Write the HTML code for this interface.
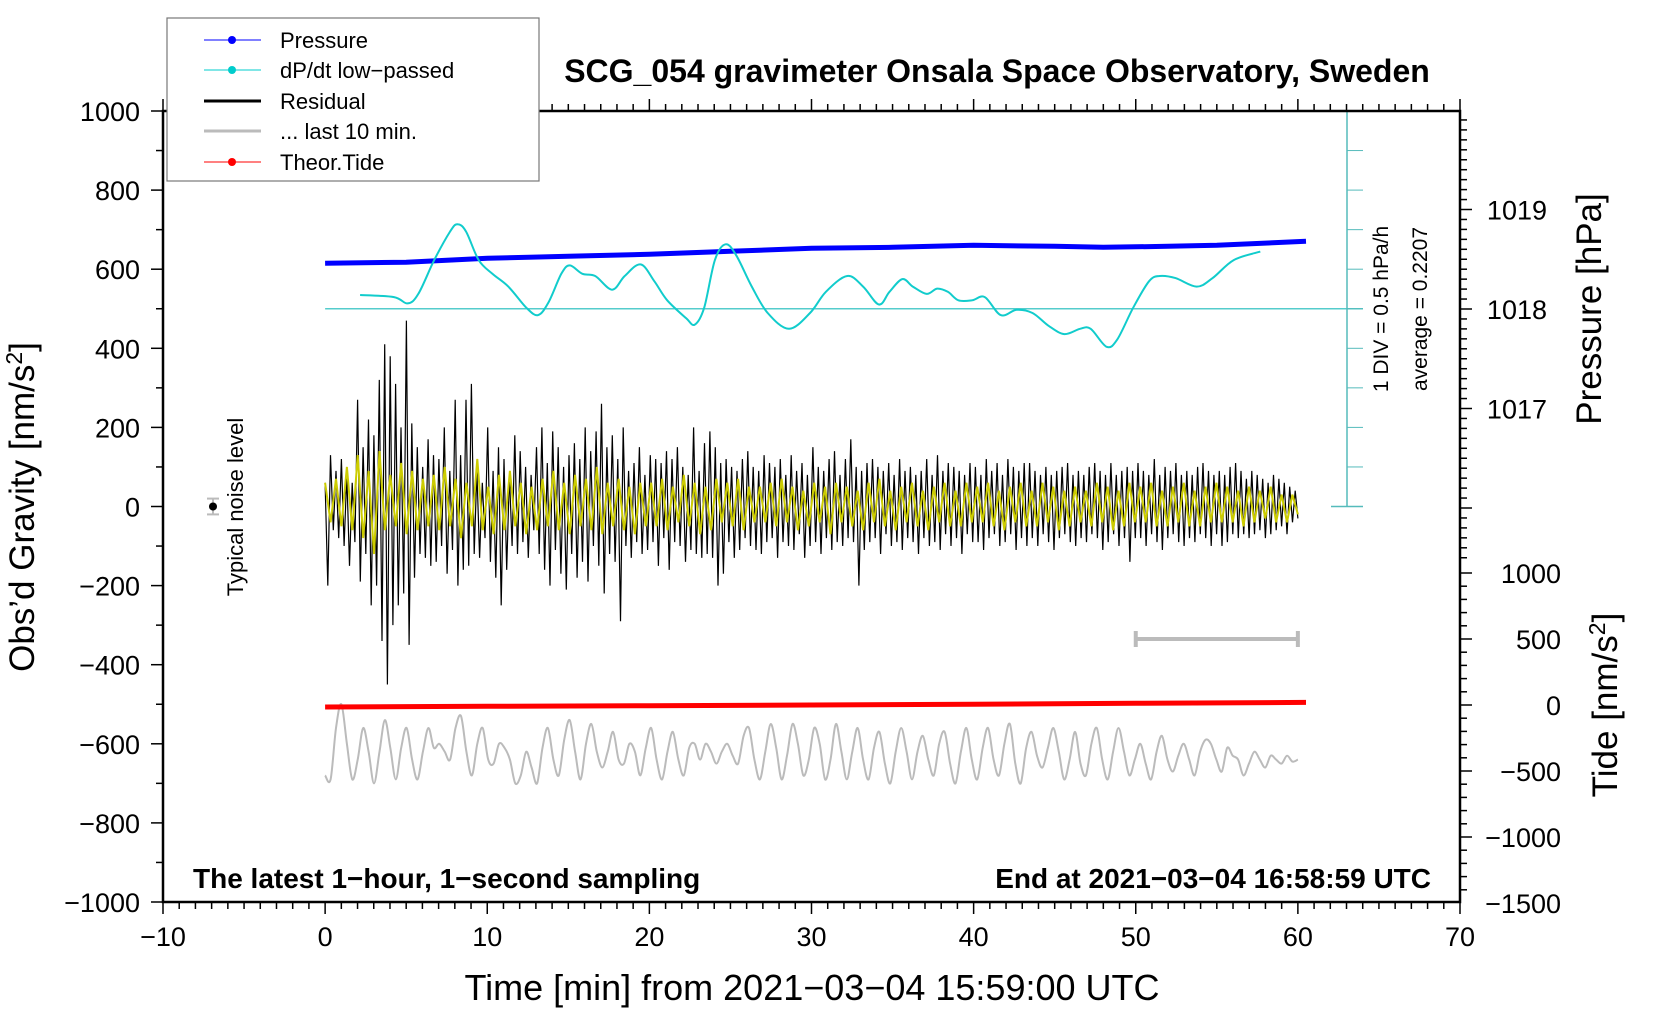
<!DOCTYPE html>
<html><head><meta charset="utf-8"><style>
html,body{margin:0;padding:0;background:#fff;overflow:hidden;}
svg{display:block;font-family:"Liberation Sans",sans-serif;}
</style></head><body>
<svg id="chart" width="1660" height="1020" viewBox="0 0 1660 1020" xmlns="http://www.w3.org/2000/svg">
<rect width="1660" height="1020" fill="#fff"/>
<g id="marks"></g>
<g id="axes"></g>
<text x="997" y="82" text-anchor="middle" font-size="32" font-weight="bold">SCG_054 gravimeter Onsala Space Observatory, Sweden</text>
<text x="812" y="1000" text-anchor="middle" font-size="36">Time [min] from 2021−03−04 15:59:00 UTC</text>
<text transform="translate(34,507) rotate(-90)" text-anchor="middle" font-size="35">Obs’d Gravity [nm/s<tspan font-size="23" dy="-12">2</tspan><tspan dy="12">]</tspan></text>
<text transform="translate(1601,309) rotate(-90)" text-anchor="middle" font-size="35">Pressure [hPa]</text>
<text transform="translate(1617,705) rotate(-90)" text-anchor="middle" font-size="35">Tide [nm/s<tspan font-size="23" dy="-12">2</tspan><tspan dy="12">]</tspan></text>
<text x="193" y="888" font-size="28" font-weight="bold">The latest 1−hour, 1−second sampling</text>
<text x="1431" y="888" text-anchor="end" font-size="28" font-weight="bold">End at 2021−03−04 16:58:59 UTC</text>
<text transform="translate(243,507) rotate(-90)" text-anchor="middle" font-size="22">Typical noise level</text>
<text transform="translate(1388,309) rotate(-90)" text-anchor="middle" font-size="21">1 DIV = 0.5 hPa/h</text>
<text transform="translate(1427,309) rotate(-90)" text-anchor="middle" font-size="21">average = 0.2207</text>
<g>
<rect x="167" y="18" width="372" height="163" fill="#fff" stroke="#777" stroke-width="1.2"/>
<g><line x1="204" y1="40" x2="261" y2="40" stroke="#00f"/><circle cx="232" cy="40" r="4" fill="#00f"/><text x="280" y="48" font-size="22">Pressure</text></g>
<g><line x1="204" y1="70" x2="261" y2="70" stroke="#0cc"/><circle cx="232" cy="70" r="4" fill="#0cc"/><text x="280" y="78" font-size="22">dP/dt low−passed</text></g>
<g><line x1="204" y1="101" x2="261" y2="101" stroke="#000" stroke-width="3"/><text x="280" y="109" font-size="22">Residual</text></g>
<g><line x1="204" y1="131" x2="261" y2="131" stroke="#bbb" stroke-width="3"/><text x="280" y="139" font-size="22">... last 10 min.</text></g>
<g><line x1="204" y1="162" x2="261" y2="162" stroke="#f00"/><circle cx="232" cy="162" r="4" fill="#f00"/><text x="280" y="170" font-size="22">Theor.Tide</text></g>
</g>
</svg>
<script>
// ---- data ----
const residual = [
60,-200,130,-60,90,-80,120,-100,80,-150,60,-90,270,-190,150,-120,220,-250,180,-200,
320,-340,410,-450,380,-300,310,-250,200,-220,470,-350,210,-180,150,-120,100,-130,170,-150,
130,-140,120,-100,200,-170,90,-110,270,-200,130,-160,270,-150,310,-120,90,-130,60,-80,
200,-140,90,-180,150,-250,120,-160,80,-100,180,-120,140,-90,100,-130,80,-60,150,-120,
200,-160,110,-200,190,-110,150,-170,100,-210,130,-120,160,-180,120,-140,200,-190,140,-100,
190,-150,260,-220,150,-120,180,-140,120,-290,200,-100,90,-130,110,-90,150,-120,80,-110,
130,-90,120,-150,110,-80,140,-160,120,-90,150,-100,100,-140,80,-110,200,-120,90,-130,
160,-120,190,-130,150,-200,110,-170,120,-90,100,-130,90,-110,120,-80,140,-100,100,-110,
90,-120,130,-90,110,-80,100,-130,120,-90,80,-100,130,-110,90,-70,110,-130,80,-100,
150,-90,100,-120,90,-80,120,-110,140,-90,80,-100,120,-80,170,-90,100,-200,90,-110,
110,-90,120,-80,100,-120,90,-70,110,-100,80,-90,120,-110,90,-80,100,-90,80,-120,
90,-80,120,-100,80,-90,130,-110,90,-70,110,-100,100,-80,90,-120,80,-70,110,-90,
100,-90,80,-110,120,-80,90,-70,110,-100,80,-90,120,-70,100,-110,90,-80,110,-100,
110,-80,90,-100,80,-70,100,-90,80,-110,90,-80,100,-70,110,-90,80,-100,90,-80,
80,-90,100,-70,110,-80,90,-110,80,-90,110,-70,80,-100,90,-80,100,-140,90,-80,
110,-80,90,-100,80,-70,120,-90,80,-110,100,-80,90,-70,110,-90,80,-100,90,-80,
80,-90,100,-70,110,-80,90,-100,80,-70,90,-100,80,-90,100,-70,110,-80,90,-70,
70,-80,90,-70,80,-60,70,-80,60,-70,80,-60,70,-50,60,-70,50,-40,40,-30];
const smoothed = [
60,-40,70,-50,100,-60,130,-80,90,-120,140,-60,80,-50,110,-70,90,-60,70,-50,
80,-60,100,-50,70,-80,60,-50,120,-60,50,-70,80,-60,90,-50,60,-70,50,-60,
70,-50,90,-60,60,-70,80,-50,70,-60,100,-70,60,-50,70,-60,50,-70,60,-50,
60,-50,70,-60,50,-40,80,-50,60,-70,50,-60,70,-40,60,-50,70,-60,50,-40,
50,-40,60,-50,70,-40,50,-60,40,-50,60,-40,50,-70,60,-40,50,-50,40,-60,
60,-40,70,-50,40,-60,50,-40,60,-50,40,-60,50,-40,60,-50,40,-50,60,-40,
50,-40,60,-50,40,-60,50,-40,60,-50,40,-50,60,-40,50,-60,40,-50,50,-40,
40,-50,60,-40,50,-60,40,-50,60,-40,50,-40,60,-50,40,-50,50,-40,60,-50,
40,-50,50,-40,60,-40,50,-40,40,-50,50,-40,40,-30,50,-40,30,-40,30,-20];
const last10 = [
-680,-690,-560,-500,-600,-690,-640,-560,-620,-700,-620,-540,-610,-690,-610,-560,-640,-690,-620,-560,
-610,-600,-620,-640,-560,-530,-620,-680,-600,-560,-640,-650,-600,-610,-640,-700,-680,-620,-660,-700,
-610,-560,-640,-680,-590,-540,-620,-690,-600,-550,-620,-660,-620,-570,-640,-650,-600,-620,-680,-610,
-560,-640,-690,-620,-570,-640,-680,-610,-600,-640,-600,-620,-650,-620,-600,-630,-650,-580,-560,-640,
-690,-620,-550,-610,-690,-630,-550,-600,-680,-640,-560,-600,-690,-640,-550,-620,-690,-620,-560,-640,
-690,-610,-570,-650,-700,-620,-560,-620,-690,-620,-580,-640,-680,-600,-570,-650,-700,-620,-560,-640,
-690,-610,-560,-640,-680,-600,-550,-650,-700,-610,-570,-630,-660,-610,-560,-620,-690,-640,-570,-650,
-680,-600,-560,-640,-690,-620,-560,-620,-680,-640,-600,-650,-690,-620,-580,-640,-670,-630,-600,-640,
-680,-620,-590,-600,-640,-670,-610,-630,-640,-680,-650,-620,-640,-660,-630,-640,-650,-630,-645,-640];
const pressureTimes = [0,5,10,15,20,25,30,35,40,45,48,52,55,60.5];
const pressureVals = [1018.46,1018.47,1018.51,1018.53,1018.55,1018.58,1018.61,1018.62,1018.64,1018.63,1018.62,1018.63,1018.64,1018.68];
const dpdtTimes = [2.16,4.25,5.09,5.75,6.73,7.71,8.16,8.69,9.47,10.32,11.30,12.41,13.13,13.78,14.57,15.09,15.87,16.66,17.70,18.48,19.46,20.31,21.10,22.27,22.80,23.38,24.04,24.69,25.34,26.32,27.30,28.61,29.91,30.89,32.20,33.18,34.16,34.81,35.60,36.25,37.10,37.75,38.41,39.06,39.91,40.69,41.67,42.65,43.63,44.61,45.59,46.57,47.22,48.20,48.86,49.84,50.82,51.47,52.45,53.76,54.74,56.04,57.68];
const dpdtVals = [0.395,0.368,0.288,0.408,0.836,1.197,1.290,1.197,0.836,0.662,0.501,0.234,0.140,0.301,0.662,0.769,0.662,0.635,0.461,0.635,0.782,0.568,0.328,0.100,0.020,0.234,0.836,1.036,0.903,0.501,0.167,-0.033,0.167,0.435,0.635,0.501,0.274,0.435,0.595,0.501,0.408,0.475,0.435,0.328,0.328,0.368,0.140,0.207,0.167,0.007,-0.100,-0.033,-0.033,-0.260,-0.167,0.234,0.568,0.635,0.608,0.501,0.608,0.836,0.943];
const dpdtAverage = 0.2207;
const tideTimes = [0,10,20,30,40,50,60.5];
const tideVals = [-15,-10,-5,0,6,13,20];
const xTicks = [-10,0,10,20,30,40,50,60,70];
const yTicks = [1000,800,600,400,200,0,-200,-400,-600,-800,-1000];
const pTicks = [1019,1018,1017];
const tideTicks = [1000,500,0,-500,-1000,-1500];

// ---- scales ----
const X0=163, X1=1460, Y0=111, Y1=902;
const sx = t => X0 + (t+10)/80*(X1-X0);
const sy = g => Y0 + (1000-g)/2000*(Y1-Y0);
const sp = p => 309 - (p-1018)*99.5;
const st = v => 705 - v/500*66;
const sd = d => sy(500) - (d-dpdtAverage)/0.5*(sy(0)-sy(100));

const NS="http://www.w3.org/2000/svg";
const marks=document.getElementById('marks'), axes=document.getElementById('axes');
function mk(tag, attrs, parent){const e=document.createElementNS(NS,tag);for(const k in attrs)e.setAttribute(k,attrs[k]);parent.appendChild(e);return e;}
function smoothPath(pts){
  let d='M'+pts[0][0].toFixed(1)+','+pts[0][1].toFixed(1);
  for(let i=0;i<pts.length-1;i++){
    const p0=pts[Math.max(0,i-1)],p1=pts[i],p2=pts[i+1],p3=pts[Math.min(pts.length-1,i+2)];
    const c1=[p1[0]+(p2[0]-p0[0])/6,p1[1]+(p2[1]-p0[1])/6],c2=[p2[0]-(p3[0]-p1[0])/6,p2[1]-(p3[1]-p1[1])/6];
    d+='C'+c1[0].toFixed(1)+','+c1[1].toFixed(1)+' '+c2[0].toFixed(1)+','+c2[1].toFixed(1)+' '+p2[0].toFixed(1)+','+p2[1].toFixed(1);
  }
  return d;
}
function linePath(pts){return 'M'+pts.map(p=>p[0].toFixed(1)+','+p[1].toFixed(1)).join('L');}

// dP/dt baseline and scale bar
const SBX=1347;
let e=mk('line',{x1:sx(0),y1:sd(dpdtAverage),x2:SBX+16,y2:sd(dpdtAverage),stroke:'#5cc',"stroke-width":1.5},marks);


e=mk('g',{stroke:'#5bb'},marks);


mk('line',{x1:SBX,y1:Y0,x2:SBX,y2:sy(0),"stroke-width":1.5},e);
mk('line',{x1:SBX-16,y1:sy(0),x2:SBX+16,y2:sy(0),"stroke-width":1.5},e);
mk('line',{x1:SBX-16,y1:Y0,x2:SBX+16,y2:Y0,"stroke-width":1.5},e);
for(let i=1;i<10;i++){const y=sy(1000-i*100);mk('line',{x1:SBX,y1:y,x2:SBX+16,y2:y,"stroke-width":1},e);}

// pressure
const pPts=pressureTimes.map((t,i)=>[sx(t),sp(pressureVals[i])]);
e=mk('path',{d:linePath(pPts),fill:'none',stroke:'#00f',"stroke-width":5},marks);


// dpdt
e=mk('path',{d:smoothPath(dpdtTimes.map((t,i)=>[sx(t),sd(dpdtVals[i])])),fill:'none',stroke:'#1cc',"stroke-width":2},marks);


// residual
const rPts=residual.map((v,i)=>[sx(i*60/(residual.length-1)),sy(v)]);
e=mk('path',{d:linePath(rPts),fill:'none',stroke:'#000',"stroke-width":1.2},marks);


const yPts=smoothed.map((v,i)=>[sx(i*60/(smoothed.length-1)),sy(v)]);
e=mk('path',{d:linePath(yPts),fill:'none',stroke:'#cc0',"stroke-width":2},marks);


// last 10 min
e=mk('path',{d:smoothPath(last10.map((v,i)=>[sx(i*60/(last10.length-1)),sy(v)])),fill:'none',stroke:'#bbb',"stroke-width":2},marks);


// tide
e=mk('path',{d:linePath(tideTimes.map((t,i)=>[sx(t),st(tideVals[i])])),fill:'none',stroke:'#f00',"stroke-width":5},marks);


// last 10 min bracket
e=mk('g',{stroke:'#bbb',"stroke-width":4},marks);


mk('line',{x1:sx(50),y1:639,x2:sx(60),y2:639},e);
mk('line',{x1:sx(50),y1:631,x2:sx(50),y2:647},e);
mk('line',{x1:sx(60),y1:631,x2:sx(60),y2:647},e);
// noise level
e=mk('g',{},marks);


mk('line',{x1:213,y1:sy(20),x2:213,y2:sy(-20),stroke:'#bbb',"stroke-width":2},e);
mk('line',{x1:207,y1:sy(20),x2:219,y2:sy(20),stroke:'#bbb',"stroke-width":2},e);
mk('line',{x1:207,y1:sy(-20),x2:219,y2:sy(-20),stroke:'#bbb',"stroke-width":2},e);
mk('circle',{cx:213,cy:sy(0),r:4,fill:'#000'},e);

// ---- axes ----
e=mk('rect',{x:X0,y:Y0,width:X1-X0,height:Y1-Y0,fill:'none',stroke:'#000',"stroke-width":2.5},axes);


for(let t=-10;t<=70;t++){
  const x=sx(t), major=t%10===0;
  mk('line',{x1:x,y1:Y1,x2:x,y2:Y1+(major?12:7),stroke:'#000',"stroke-width":1.5},axes);
  mk('line',{x1:x,y1:Y0,x2:x,y2:Y0-(major?12:7),stroke:'#000',"stroke-width":1.5},axes);
}
xTicks.forEach(t=>{const l=mk('text',{x:sx(t),y:946,"text-anchor":"middle","font-size":27},axes);l.textContent=t<0?'−'+(-t):t;

});
for(let g=-1000;g<=1000;g+=100){const y=sy(g);mk('line',{x1:X0,y1:y,x2:X0-(g%200===0?12:7),y2:y,stroke:'#000',"stroke-width":1.5},axes);}
yTicks.forEach(g=>{const l=mk('text',{x:140,y:sy(g)+10,"text-anchor":"end","font-size":27},axes);l.textContent=g<0?'−'+(-g):g;

});
for(let i=-40;i<=20;i++){const p=1018+i*0.1;const y=sp(p);if(y<Y0+4||y>560)continue;const maj=i%10===0;mk('line',{x1:X1,y1:y,x2:X1+(maj?12:7),y2:y,stroke:'#000',"stroke-width":1.5},axes);}
pTicks.forEach(p=>{const l=mk('text',{x:X1+87,y:sp(p)+10,"text-anchor":"end","font-size":27},axes);l.textContent=p;

});
for(let v=-1500;v<=1200;v+=100){const y=st(v);if(y<565||y>Y1)continue;mk('line',{x1:X1,y1:y,x2:X1+(v%500===0?12:7),y2:y,stroke:'#000',"stroke-width":1.5},axes);}
tideTicks.forEach(v=>{const l=mk('text',{x:X1+101,y:st(v)+10,"text-anchor":"end","font-size":27},axes);l.textContent=v<0?'−'+(-v):v;

});
</script>
</body></html>
